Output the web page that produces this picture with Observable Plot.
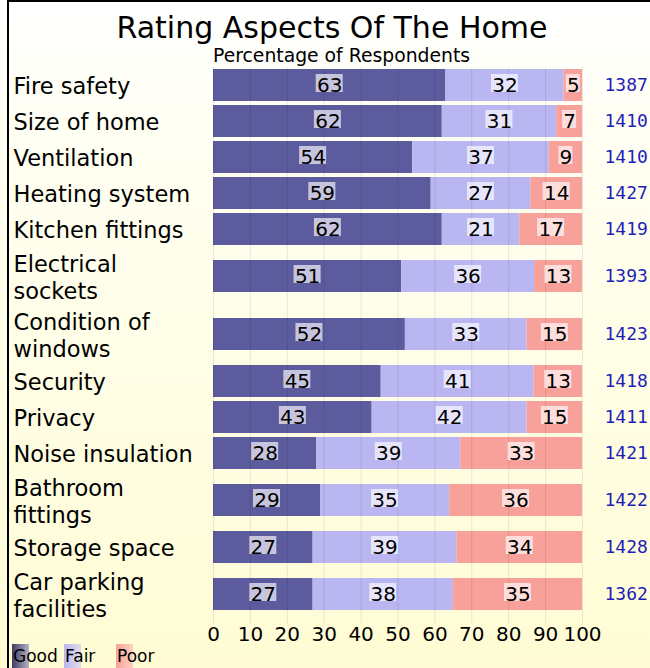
<!DOCTYPE html>
<html><head><meta charset="utf-8">
<script src="https://cdn.jsdelivr.net/npm/d3@7"></script>
<script src="https://cdn.jsdelivr.net/npm/@observablehq/plot@0.6"></script>
<style>
html,body{margin:0;padding:0;background:#fff;}
#wrap{position:relative;width:650px;height:668px;overflow:hidden;
 background:linear-gradient(180deg,#ffffff 0%,#fffff4 18%,#fffcd4 100%);
 font-family:"DejaVu Sans",sans-serif;}
#frame{position:absolute;left:7px;top:0;width:643px;height:668px;border-left:2px solid #000;border-top:2px solid #000;box-sizing:border-box;pointer-events:none;}
#wrap svg{position:absolute;left:0;top:0;}
</style></head><body><div id="wrap"><div id="frame"></div></div>
<script>
// ---- data ----
const categories = ["Fire safety","Size of home","Ventilation","Heating system","Kitchen fittings",
  "Electrical\nsockets","Condition of\nwindows","Security","Privacy","Noise insulation",
  "Bathroom\nfittings","Storage space","Car parking\nfacilities"];
const good = [63,62,54,59,62,51,52,45,43,28,29,27,27];
const fair = [32,31,37,27,21,36,33,41,42,39,35,39,38];
const poor = [5,7,9,14,17,13,15,13,15,33,36,34,35];
const sampleSize = [1387,1410,1410,1427,1419,1393,1423,1418,1411,1421,1422,1428,1362];
const seriesNames = ["Good","Fair","Poor"];
const seriesColors = ["#5c5b9e","#b9b6f2","#f8a19a"];
const xTicks = [0,10,20,30,40,50,60,70,80,90,100];
const titleText = "Rating Aspects Of The Home";
const subtitleText = "Percentage of Respondents";

// ---- layout of rows (taller rows for two-line labels) ----
const rowSpan = categories.map(c => c.split("\n").length === 1 ? 36 : 58);
let acc = 0;
const rows = categories.map((c, i) => {
  const top = acc; acc += rowSpan[i];
  return {label: c, n: sampleSize[i], mid: top + rowSpan[i] / 2};
});
const total = acc;
const segments = [];
rows.forEach((r, i) => {
  const vals = [good[i], fair[i], poor[i]];
  const sum = vals[0] + vals[1] + vals[2];
  let c = 0;
  vals.forEach((v, k) => {
    segments.push({series: seriesNames[k], value: v, mid: r.mid,
      x1: c / sum * 100, x2: (c + v) / sum * 100});
    c += v;
  });
});
const labelX = d => (d.x1 + d.x2) / 2;
const boxStyle = {x1: labelX, x2: labelX, y1: "mid", y2: "mid", insetTop: -11, insetBottom: -7,
  fill: "#ffffff", fillOpacity: 0.65};

const half = 16;
const chart = Plot.plot({
  width: 650, height: 668,
  marginLeft: 213, marginRight: 68, marginTop: 67, marginBottom: 45,
  style: {background: "transparent", fontFamily: "DejaVu Sans, sans-serif", overflow: "visible"},
  x: {domain: [0, 100], axis: null},
  y: {domain: [0, total], range: [67, 623], axis: null},
  color: {domain: seriesNames, range: seriesColors},
  marks: [
    Plot.rect(segments, {x1: "x1", x2: "x2", y1: d => d.mid - half, y2: d => d.mid + half, fill: "series"}),
    Plot.gridX(xTicks, {stroke: "#000", strokeOpacity: 0.09}),
    Plot.axisX(xTicks, {tickSize: 0, tickPadding: 3, fontSize: 20, label: null, tickFormat: d => String(d), fill: "#000"}),
    Plot.rect(segments.filter(d => d.value < 10), {...boxStyle, insetLeft: -7, insetRight: -7}),
    Plot.rect(segments.filter(d => d.value >= 10), {...boxStyle, insetLeft: -13.5, insetRight: -13.5}),
    Plot.text(segments, {x: labelX, y: "mid", text: d => String(d.value), fontSize: 20, fill: "#000"}),
    Plot.text(rows, {x: () => 0, y: "mid", text: "label", dx: -200, textAnchor: "start", fontSize: 22.5, lineHeight: 1.2, fill: "#000"}),
    Plot.text(rows, {x: () => 100, y: "mid", text: d => String(d.n), dx: 22, textAnchor: "start", fontSize: 18, fontFamily: "DejaVu Sans Mono", fill: "#1f1fb8"})
  ]
});
document.getElementById("wrap").insertBefore(chart, document.getElementById("frame"));
const svg = d3.select(chart);

// title & subtitle
svg.append("text").attr("x", 332).attr("y", 38).attr("text-anchor", "middle")
  .attr("font-size", 30).attr("fill", "#000").text(titleText);
svg.append("text").attr("x", 213).attr("y", 62).attr("text-anchor", "start")
  .attr("font-size", 18.8).attr("fill", "#000").text(subtitleText);

// legend
const defs = svg.append("defs");
const legendX = [13, 65, 117];
seriesNames.forEach((name, k) => {
  const col = d3.color(seriesColors[k]);
  const g = defs.append("linearGradient").attr("id", "lg" + k).attr("x1", 0).attr("x2", 1).attr("y1", 0).attr("y2", 0);
  g.append("stop").attr("offset", "0%").attr("stop-color", k === 0 ? col.darker(1.2) : col);
  g.append("stop").attr("offset", "100%").attr("stop-color", d3.interpolateRgb(col, "#fffce0")(0.55));
  svg.append("rect").attr("x", legendX[k] - 1).attr("y", 644).attr("width", 17).attr("height", 24).attr("fill", `url(#lg${k})`);
  svg.append("text").attr("x", legendX[k]).attr("y", 662).attr("text-anchor", "start")
    .attr("font-size", 17).attr("fill", "#000").text(name);
});
</script></body></html>
